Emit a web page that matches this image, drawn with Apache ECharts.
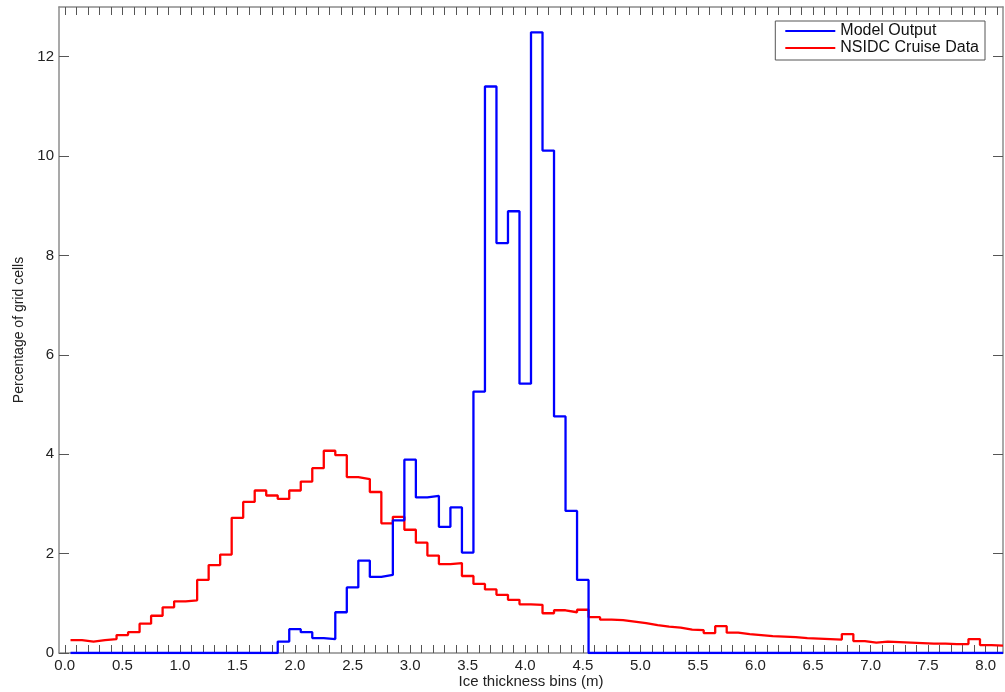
<!DOCTYPE html>
<html>
<head>
<meta charset="utf-8">
<script src="https://cdn.jsdelivr.net/npm/echarts@6/dist/echarts.min.js"></script>
<style>
html,body{margin:0;padding:0;background:#fff;}
#chart{width:1005px;height:692px;}
</style>
</head>
<body>
<div id="chart"></div>
<script>
// Bin centers (m)
var binCenters = [0.1,0.2,0.3,0.4,0.5,0.6,0.7,0.8,0.9,1.0,
  1.1,1.2,1.3,1.4,1.5,1.6,1.7,1.8,1.9,2.0,
  2.1,2.2,2.3,2.4,2.5,2.6,2.7,2.8,2.9,3.0,
  3.1,3.2,3.3,3.4,3.5,3.6,3.7,3.8,3.9,4.0,
  4.1,4.2,4.3,4.4,4.5,4.6,4.7,4.8,4.9,5.0,
  5.1,5.2,5.3,5.4,5.5,5.6,5.7,5.8,5.9,6.0,
  6.1,6.2,6.3,6.4,6.5,6.6,6.7,6.8,6.9,7.0,
  7.1,7.2,7.3,7.4,7.5,7.6,7.7,7.8,7.9,8.0,8.1];
var binWidth = 0.1;

// Model Output (%)
var modelOutput = [0,0,0,0,0,0,0,0,0,0,
  0,0,0,0,0,0,0,0,0.23,0.48,
  0.42,0.30,0.28,0.82,1.32,1.86,1.53,1.57,2.67,3.89,
  3.13,3.16,2.54,2.93,2.02,5.26,11.40,8.25,8.89,5.42,
  12.49,10.11,4.76,2.86,1.47,0,0,0,0,0,
  0,0,0,0,0,0,0,0,0,0,
  0,0,0,0,0,0,0,0,0,0,
  0,0,0,0,0,0,0,0,0,0,0];

// NSIDC Cruise Data (%)
var cruiseData = [0.26,0.23,0.26,0.28,0.36,0.42,0.59,0.75,0.92,1.04,
  1.06,1.47,1.77,1.98,2.72,3.04,3.27,3.17,3.10,3.27,
  3.45,3.72,4.07,3.98,3.54,3.50,3.24,2.61,2.74,2.48,
  2.22,1.96,1.79,1.81,1.55,1.39,1.28,1.17,1.07,0.98,
  0.97,0.80,0.86,0.82,0.87,0.72,0.67,0.66,0.63,0.60,
  0.56,0.53,0.51,0.47,0.46,0.40,0.54,0.41,0.38,0.36,
  0.34,0.33,0.32,0.30,0.29,0.28,0.27,0.38,0.24,0.21,
  0.23,0.22,0.21,0.20,0.19,0.19,0.18,0.18,0.28,0.16,0.15];

var seriesNames = ['Model Output', 'NSIDC Cruise Data'];
var xLabelValues = [0,0.5,1.0,1.5,2.0,2.5,3.0,3.5,4.0,4.5,5.0,5.5,6.0,6.5,7.0,7.5,8.0];
var yLabelValues = [0,2,4,6,8,10,12];
var xRange = [-0.05, 8.15];
var yRange = [0, 13];
var xTitle = 'Ice thickness bins (m)';
var yTitle = 'Percentage of grid cells';

// minor tick positions every bin width
var xTickValues = [];
for (var t = 0; t <= 81; t++) xTickValues.push(Math.round(t * binWidth * 10) / 10);

// Build step points at bin edges
function stepPoints(vals) {
  var pts = [];
  for (var i = 0; i < binCenters.length; i++) {
    pts.push([+(binCenters[i] - binWidth / 2).toFixed(3), vals[i]]);
  }
  var last = binCenters.length - 1;
  pts.push([+(binCenters[last] + binWidth / 2).toFixed(3), vals[last]]);
  return pts;
}

var font = "'Liberation Sans', Arial, sans-serif";
var axisLineColor = '#8c8c8c';
var tickColor = '#555';

var chart = echarts.init(document.getElementById('chart'), null, {renderer: 'canvas'});
chart.setOption({
  backgroundColor: '#fff',
  animation: false,
  grid: {left: 59, top: 7, width: 944, height: 646, containLabel: false, outerBoundsMode: 'none'},
  legend: {
    data: seriesNames,
    orient: 'vertical',
    right: 20,
    top: 21,
    itemWidth: 50,
    itemHeight: 14,
    itemGap: 1,
    padding: [2, 6, 4, 10],
    borderColor: '#555',
    borderWidth: 1,
    backgroundColor: '#fff',
    textStyle: {fontFamily: font, fontSize: 16, color: '#111'},
    icon: 'path://M0,6 L50,6 L50,8 L0,8 Z'
  },
  xAxis: [{
    type: 'value',
    min: xRange[0], max: xRange[1],
    position: 'bottom',
    name: xTitle,
    nameLocation: 'middle',
    nameGap: 21,
    nameMoveOverlap: false,
    nameTextStyle: {fontFamily: font, fontSize: 15, color: '#222'},
    axisLine: {show: true, onZero: false, lineStyle: {color: axisLineColor, width: 1.5}},
    axisTick: {show: true, inside: true, length: 8, customValues: xTickValues, lineStyle: {color: tickColor, width: 1}},
    axisLabel: {customValues: xLabelValues, margin: 5, fontFamily: font, fontSize: 15, color: '#222',
      formatter: function (v) { return v.toFixed(1); }},
    splitLine: {show: false}
  }, {
    type: 'value',
    min: xRange[0], max: xRange[1],
    position: 'top',
    axisLine: {show: true, onZero: false, lineStyle: {color: axisLineColor, width: 1.5}},
    axisTick: {show: true, inside: true, length: 8, customValues: xTickValues, lineStyle: {color: tickColor, width: 1}},
    axisLabel: {show: false},
    splitLine: {show: false}
  }],
  yAxis: [{
    type: 'value',
    min: yRange[0], max: yRange[1],
    position: 'left',
    name: yTitle,
    nameLocation: 'middle',
    nameGap: 33,
    nameMoveOverlap: false,
    nameTextStyle: {fontFamily: font, fontSize: 14, color: '#222'},
    axisLine: {show: true, onZero: false, lineStyle: {color: axisLineColor, width: 1.5}},
    axisTick: {show: true, inside: true, length: 10, customValues: yLabelValues, lineStyle: {color: tickColor, width: 1}},
    axisLabel: {customValues: yLabelValues, margin: 5, fontFamily: font, fontSize: 15, color: '#222'},
    splitLine: {show: false}
  }, {
    type: 'value',
    min: yRange[0], max: yRange[1],
    position: 'right',
    axisLine: {show: true, onZero: false, lineStyle: {color: axisLineColor, width: 1.5}},
    axisTick: {show: true, inside: true, length: 10, customValues: yLabelValues, lineStyle: {color: tickColor, width: 1}},
    axisLabel: {show: false},
    splitLine: {show: false}
  }],
  series: [{
    name: seriesNames[0],
    type: 'line',
    step: 'end',
    data: stepPoints(modelOutput),
    xAxisIndex: 0, yAxisIndex: 0,
    symbol: 'none',
    color: '#0000ff',
    lineStyle: {color: '#0000ff', width: 2.3},
    z: 3
  }, {
    name: seriesNames[1],
    type: 'line',
    step: 'end',
    data: stepPoints(cruiseData),
    xAxisIndex: 0, yAxisIndex: 0,
    symbol: 'none',
    color: '#ff0000',
    lineStyle: {color: '#ff0000', width: 2.3},
    z: 2
  }]
});
</script>
</body>
</html>
